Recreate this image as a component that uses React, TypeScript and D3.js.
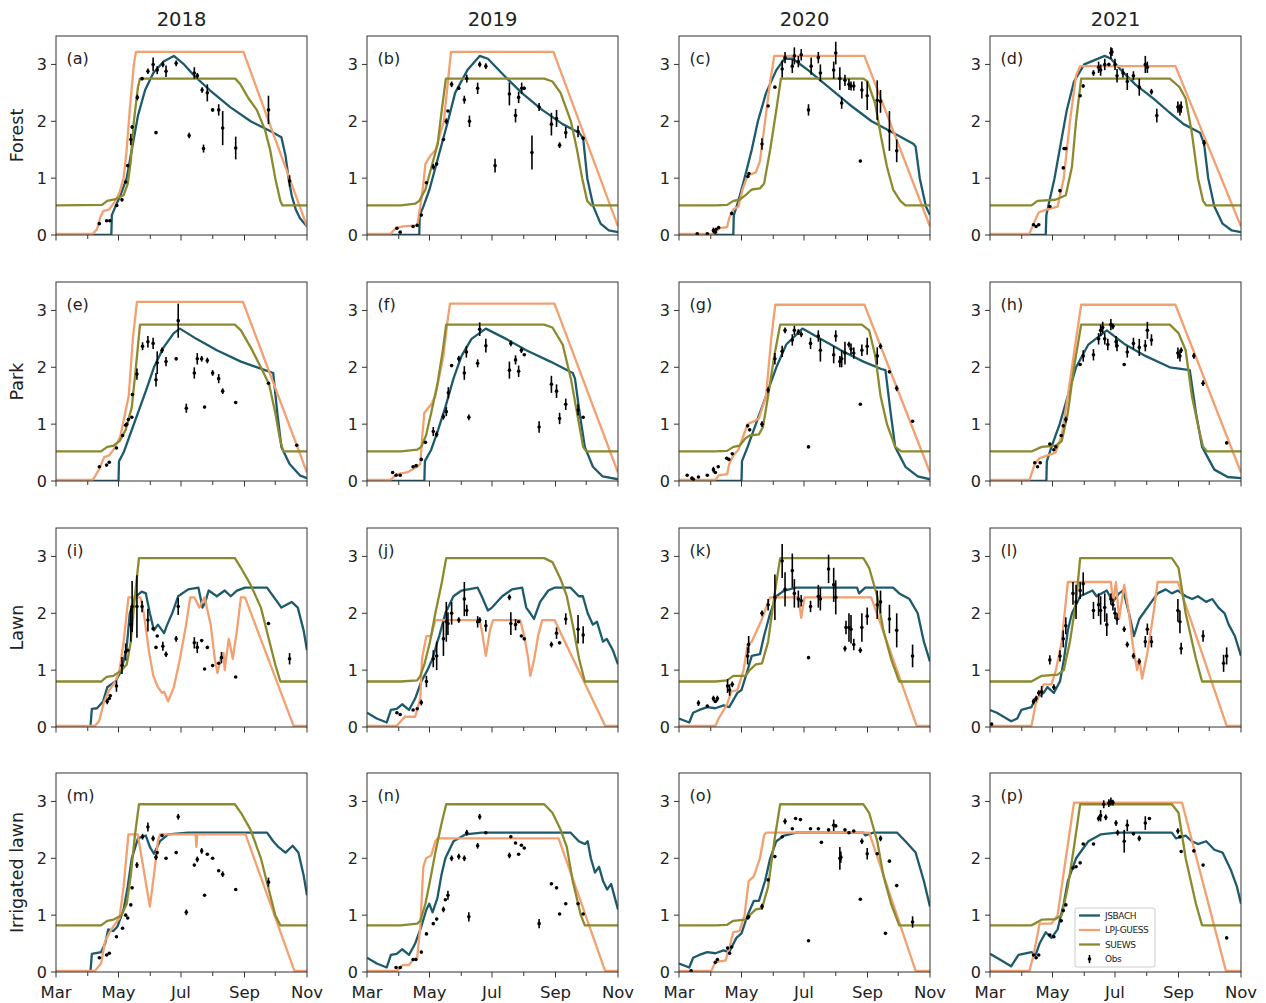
import React from 'react';
import * as d3 from 'd3';

// x values are days since 1 March, y is LAI
const years = ['2018', '2019', '2020', '2021'];
const siteNames = ['Forest', 'Park', 'Lawn', 'Irrigated lawn'];
const panelTags = ['a', 'b', 'c', 'd', 'e', 'f', 'g', 'h', 'i', 'j', 'k', 'l', 'm', 'n', 'o', 'p'];
const monthDays = [0, 31, 61, 92, 122, 153, 184, 214, 245];
const monthNames = ['Mar', '', 'May', '', 'Jul', '', 'Sep', '', 'Nov'];
const yTicks = [0, 1, 2, 3];
const modelNames = ['JSBACH', 'LPJ-GUESS', 'SUEWS'];
const modelColors = ['#1d5a6c', '#f2a070', '#8b8a2e'];

// ---- Forest ----
const jsbachA = [[0,0],[54,0],[54.5,0.35],[58,0.5],[63,0.7],[69,1.0],[75,1.6],[80,2.1],[87,2.55],[95,2.85],[105,3.05],[115,3.15],[125,3.0],[135,2.8],[150,2.55],[170,2.25],[190,2.0],[210,1.82],[220,1.72],[224,1.4],[227,1.0],[230,0.7],[234,0.45],[238,0.3],[245,0.15]];
const lpjA = [[0,0.02],[36,0.02],[40,0.1],[43,0.3],[46,0.42],[52,0.45],[58,0.6],[62,0.75],[66,1.0],[69,1.5],[72,2.2],[76,3.0],[78,3.22],[183,3.22],[245,0.15]];
const suewsA = [[0,0.52],[45,0.53],[50,0.6],[58,0.63],[66,0.7],[70,0.9],[73,1.3],[76,2.0],[80,2.6],[82,2.75],[175,2.75],[180,2.65],[188,2.4],[196,2.2],[204,1.85],[209,1.5],[214,1.0],[219,0.6],[221,0.52],[245,0.52]];
const obsA = [[42.3,0.2,0],[49.4,0.25,0],[52.5,0.25,0],[59.3,0.52,0],[64.4,0.62,0.03],[68,0.93,0],[70,1.22,0],[73,1.68,0.1],[74.3,1.9,0.03],[79.4,2.42,0.05],[84,2.75,0.03],[89.7,2.88,0.05],[94.8,3.0,0.12],[97.6,1.8,0],[98.8,2.9,0.07],[104.3,3.0,0.05],[107.4,2.88,0.1],[117.3,3.02,0.05],[130,1.75,0.05],[135,2.85,0.1],[138,2.8,0.05],[142.6,2.55,0.05],[144,1.52,0.07],[147.7,2.5,0.15],[152.9,2.2,0.03],[158.8,2.2,0.1],[162.7,1.88,0.3],[175.4,1.53,0.2],[207.4,2.2,0.25],[228,0.95,0.1]];

const jsbachB = [[0,0],[51,0],[51.5,0.35],[55,0.5],[61,0.8],[67,1.2],[73,1.6],[79,2.0],[86,2.5],[98,2.9],[110,3.15],[118,3.1],[134,2.8],[151,2.5],[171,2.2],[191,1.95],[207,1.8],[211,1.7],[215,1.0],[221,0.5],[228,0.2],[236,0.08],[245,0.05]];
const lpjB = [[0,0.02],[23,0.02],[28,0.12],[35,0.15],[49,0.17],[52,0.5],[55,0.9],[57,1.25],[62,1.4],[67,1.5],[75,2.0],[79,2.7],[82,3.22],[182,3.22],[245,0.15]];
const suewsB = [[0,0.52],[33,0.52],[47,0.55],[51,0.6],[57,0.8],[63,1.2],[69,1.6],[73,2.2],[77,2.75],[173,2.75],[181,2.7],[189,2.5],[199,2.0],[205,1.5],[210,1.0],[215,0.6],[219,0.52],[245,0.52]];
const obsB = [[29.2,0.12,0],[32.4,0.05,0],[45,0.15,0],[49,0.17,0],[53,0.35,0],[58,0.92,0],[64.7,1.2,0.05],[68,1.25,0.03],[74.6,1.68,0],[77.4,2.0,0.05],[79,2.18,0],[82.6,2.65,0.05],[89.6,2.58,0.03],[95,2.38,0.07],[97.4,2.75,0.07],[100,2.0,0.1],[108,2.58,0.1],[110,3.0,0.05],[116,2.97,0.05],[125,1.22,0.12],[139,2.48,0.2],[145,2.1,0.12],[148,2.42,0.1],[151,2.58,0.1],[153.5,2.58,0.03],[161,1.45,0.3],[168,2.25,0.07],[180,1.95,0.2],[185,2.05,0.15],[188,1.58,0.05],[194,1.8,0.1],[206,1.82,0.1],[211,1.7,0.03]];

const jsbachC = [[0,0],[53,0],[53.5,0.35],[58,0.6],[64,1.0],[71,1.5],[77,2.0],[85,2.5],[95,2.9],[103,3.1],[111,3.1],[126,2.9],[146,2.6],[166,2.3],[188,2.0],[209,1.8],[229,1.6],[231,1.55],[235,1.0],[241,0.5],[245,0.35]];
const lpjC = [[0,0.02],[33.6,0.02],[39.5,0.12],[47,0.14],[49,0.3],[53,0.45],[58,0.5],[62,0.8],[67,1.05],[75,1.1],[79,1.3],[84,2.0],[89,2.7],[93,3.15],[181,3.15],[245,0.15]];
const suewsC = [[0,0.52],[35.5,0.52],[47,0.53],[53,0.6],[59,0.62],[65,0.7],[71,0.8],[79,0.82],[83,0.9],[89,1.5],[95,2.2],[99.5,2.75],[180,2.75],[184,2.7],[191.6,2.3],[197.5,1.7],[203,1.2],[209,0.8],[216,0.6],[221,0.52],[245,0.52]];
const obsC = [[17.8,0.02,0],[27.6,0.02,0],[33.6,0.08,0.05],[35.5,0.05,0],[36.3,0.1,0],[38.7,0.13,0],[51.4,0.38,0],[67.2,1.03,0],[68.3,1.08,0],[81,1.6,0.1],[87,2.27,0],[93.6,2.6,0],[100.7,2.92,0.15],[103.5,3.12,0.1],[110.6,2.97,0.12],[112.6,3.15,0.15],[116.5,3.05,0.1],[119.3,3.17,0.1],[126.4,2.2,0.1],[129,2.97,0.15],[136,3.12,0.1],[138,2.85,0.15],[151,2.9,0.15],[153,3.2,0.2],[157,2.75,0.2],[158.8,2.32,0.1],[162,2.72,0.1],[165.9,2.65,0.1],[167.9,2.62,0.08],[170.6,2.62,0.08],[177,1.3,0],[178.5,2.55,0.15],[183.7,2.45,0.25],[193.5,2.37,0.35],[196.7,2.35,0.2],[205.4,1.83,0.35],[212.5,1.48,0.2]];

const jsbachD = [[0,0],[54.4,0],[55,0.35],[58,0.6],[63,1.0],[69,1.6],[75,2.2],[82,2.7],[92,3.0],[112,3.15],[118,3.1],[128,2.9],[141.7,2.65],[159.6,2.4],[175.5,2.15],[189,1.95],[205,1.8],[209,1.6],[213,1.0],[219,0.5],[227,0.2],[236,0.08],[245,0.05]];
const lpjD = [[0,0.02],[38.5,0.02],[42.5,0.2],[47.6,0.4],[56,0.45],[66,0.5],[72,1.0],[78,2.0],[84,2.8],[88,2.97],[181,2.97],[245,0.15]];
const suewsD = [[0,0.52],[40.5,0.52],[46.4,0.6],[64,0.62],[74,0.7],[80,1.2],[84,2.0],[89,2.75],[175.5,2.75],[185,2.6],[191,2.4],[197,1.8],[203,1.0],[208,0.6],[211,0.52],[245,0.52]];
const obsD = [[42.5,0.18,0],[45,0.15,0],[47.6,0.18,0],[58.4,0.5,0],[68.3,0.78,0.03],[71.5,1.18,0],[72.3,1.52,0],[74,1.52,0],[88,2.45,0],[91,2.62,0.03],[101,2.85,0.05],[106,2.95,0.1],[108,2.9,0.1],[112,3.0,0.1],[116,3.0,0.03],[118,3.2,0.1],[119,3.22,0.07],[122,3.0,0.1],[124,2.8,0.12],[129.8,2.85,0.08],[134,2.7,0.15],[140,2.8,0.08],[145.7,2.6,0.15],[151.6,3.0,0.15],[153.6,2.95,0.1],[157.6,2.52,0.05],[162.8,2.1,0.12],[183.4,2.25,0.1],[185.4,2.2,0.1],[186.6,2.25,0.1],[209,1.62,0.05]];

// ---- Park ----
const jsbachE = [[0,0],[61,0],[61.5,0.35],[66,0.5],[72,0.8],[80,1.2],[88,1.6],[95.6,2.0],[105,2.35],[115,2.6],[121,2.68],[137,2.5],[157,2.3],[180.5,2.1],[204,1.95],[212,1.9],[216,1.2],[220,0.6],[228,0.3],[238,0.1],[245,0.05]];
const lpjE = [[0,0.02],[36,0.02],[42,0.2],[47,0.42],[52,0.45],[58,0.6],[63,0.8],[71,1.5],[75,2.5],[79,3.15],[182.5,3.15],[245,0.15]];
const suewsE = [[0,0.52],[44,0.52],[50,0.6],[56,0.62],[62,0.7],[68,0.9],[74,1.3],[78,2.0],[82,2.75],[174.6,2.75],[180.5,2.65],[190,2.35],[200,2.0],[208,1.7],[214,1.2],[219,0.7],[222,0.52],[245,0.52]];
const obsE = [[42.3,0.25,0],[49.4,0.28,0],[52,0.33,0],[59,0.58,0],[65,0.8,0],[68,0.98,0],[69,1.0,0],[70.7,1.08,0],[74,1.12,0],[74.6,1.52,0],[79,1.88,0.1],[84.5,2.37,0.07],[89.7,2.45,0.1],[94.8,2.42,0.1],[97.6,1.78,0.12],[98.8,2.08,0.2],[103.5,2.3,0.05],[107.4,2.1,0.08],[117.3,2.15,0.03],[119.3,2.82,0.3],[127.2,1.28,0.08],[135,1.9,0.1],[137.9,2.15,0.1],[142.2,2.15,0.05],[145,1.3,0],[147.7,2.12,0.05],[152.9,1.9,0.05],[158.8,1.8,0.08],[162.7,1.58,0.05],[175.4,1.38,0],[207.4,1.72,0],[235,0.63,0]];

const jsbachF = [[0,0],[56,0],[56.5,0.35],[62.7,0.55],[69.4,0.9],[76.5,1.3],[84.4,1.8],[92.3,2.2],[102,2.5],[116,2.68],[135.7,2.5],[155.4,2.3],[179,2.1],[200.8,1.9],[203,1.8],[207.5,1.2],[212.6,0.6],[220.5,0.25],[230,0.08],[245,0.03]];
const lpjF = [[0,0.02],[23,0.02],[29,0.12],[39,0.15],[49,0.25],[52,0.3],[54,0.8],[56,1.2],[62.7,1.35],[66.7,1.5],[74.6,2.2],[78.5,2.8],[81,3.12],[183,3.12],[245,0.15]];
const suewsF = [[0,0.52],[33,0.52],[49,0.55],[53,0.6],[57.6,0.8],[62.7,1.2],[68.7,1.7],[74,2.3],[77.3,2.75],[173,2.75],[181,2.7],[191,2.4],[199,1.8],[207,1.0],[211,0.6],[214,0.52],[245,0.52]];
const obsF = [[25,0.15,0],[28.4,0.1,0],[32.4,0.1,0],[45,0.25,0],[48,0.27,0],[53,0.38,0],[57,0.68,0],[64.7,0.87,0.08],[68,0.82,0.05],[74.6,1.13,0.05],[77.4,1.22,0.08],[79.4,1.55,0.1],[82.6,2.03,0],[89.6,2.15,0.05],[95,1.9,0.12],[97,2.27,0.1],[99.4,1.12,0.05],[108,2.07,0.07],[110,2.67,0.12],[116,2.38,0.12],[139,1.95,0.15],[140.4,2.42,0.05],[145,2.13,0.08],[148,1.93,0.1],[150.7,2.3,0.05],[153.5,2.22,0],[168,0.95,0.1],[180,1.7,0.15],[185,1.58,0.12],[188,1.1,0.1],[194,1.35,0.1],[206,1.25,0.1],[211,1.12,0]];

const jsbachG = [[0,0],[61,0],[61.5,0.35],[67,0.6],[75,1.0],[85,1.5],[95,2.0],[104.7,2.4],[120.5,2.68],[138,2.5],[158,2.3],[180,2.1],[197.5,1.97],[201.5,1.95],[206.6,1.2],[211,0.6],[221,0.25],[233,0.08],[245,0.03]];
const lpjG = [[0,0.02],[35.5,0.02],[38.7,0.1],[47,0.12],[49,0.3],[53,0.45],[58,0.55],[63,0.8],[67,1.0],[73,1.05],[78,1.1],[85,1.5],[90,2.5],[94,3.1],[181,3.1],[245,0.15]];
const suewsG = [[0,0.52],[35.5,0.52],[47,0.53],[53,0.6],[59,0.62],[65,0.75],[69,0.8],[78,0.82],[82,0.95],[87,1.5],[93,2.2],[98.75,2.75],[178.5,2.75],[185.6,2.65],[191.6,2.2],[196.7,1.5],[203,1.0],[211,0.6],[217,0.52],[245,0.52]];
const obsG = [[8,0.1,0],[12.6,0.05,0],[14,0.03,0],[19,0.07,0],[27.6,0.1,0],[33.6,0.2,0.05],[35.5,0.15,0],[38.3,0.25,0],[46.6,0.4,0],[48.6,0.38,0],[52,0.48,0],[67,0.97,0],[69,0.9,0],[81,1.0,0.05],[87,1.6,0.05],[93.6,2.15,0.1],[100.7,2.28,0.1],[103.5,2.65,0.05],[110.6,2.48,0.1],[112.6,2.65,0.08],[116.5,2.62,0.05],[119.3,2.58,0.05],[126.4,0.6,0],[128.4,2.42,0.1],[136,2.55,0.1],[138,2.3,0.2],[151,2.22,0.15],[153,2.55,0.1],[157,2.1,0.1],[158.8,2.15,0.15],[162,2.25,0.2],[165.9,2.4,0.05],[167.9,2.32,0.1],[170.6,2.25,0.1],[177,1.35,0],[178.5,2.3,0.1],[183.7,2.37,0.15],[193.5,2.2,0.15],[196.7,2.37,0.05],[205.4,1.92,0],[212.5,1.63,0.05],[228,1.05,0]];

const jsbachH = [[0,0],[55,0],[55.5,0.35],[60,0.6],[68,1.0],[76,1.5],[84,2.0],[96,2.4],[114,2.65],[132,2.4],[151.6,2.2],[175.5,2.0],[195,1.95],[201,1.2],[207,0.6],[219,0.2],[232,0.07],[245,0.05]];
const lpjH = [[0,0.02],[38.5,0.02],[43.7,0.3],[48.4,0.4],[56,0.45],[64,0.5],[70,0.8],[76,1.5],[84,2.5],[89,3.1],[181,3.1],[245,0.15]];
const suewsH = [[0,0.52],[40.5,0.52],[50.4,0.6],[64,0.62],[70,0.7],[76,1.2],[82,2.0],[89,2.75],[175.5,2.75],[184,2.6],[191,2.3],[197,1.5],[204,0.9],[208,0.6],[212,0.52],[245,0.52]];
const obsH = [[43.7,0.32,0],[46.4,0.25,0],[49,0.32,0],[58.4,0.65,0],[62.3,0.55,0],[64.3,0.6,0],[69.5,0.8,0],[71.5,0.97,0],[74,1.08,0.05],[88,2.05,0],[91,2.2,0.1],[101,2.22,0.1],[106,2.5,0.1],[108,2.65,0.1],[110,2.7,0.1],[112,2.5,0.1],[115,2.4,0.1],[118,2.75,0.1],[120,2.72,0.05],[123,2.45,0.1],[124,2.38,0.1],[131,2.05,0],[134,2.27,0.1],[140,2.42,0.1],[145.7,2.35,0.15],[151.6,2.38,0.1],[153.6,2.65,0.15],[157.6,2.48,0.1],[183.4,2.25,0.1],[185.4,2.2,0.1],[186.6,2.3,0.05],[199,2.2,0.05],[208,1.72,0.05],[231,0.67,0]];

// ---- Lawn ----
const jsbachI = [[0,0],[33.6,0],[35,0.32],[40,0.33],[46,0.45],[50,0.7],[58,0.8],[64,1.0],[69,1.4],[72,2.0],[77,2.28],[83.7,2.38],[87.7,2.35],[91.6,2.0],[95.6,1.7],[99.5,1.8],[105.5,1.65],[108.6,1.8],[113.4,2.0],[119.3,2.3],[129,2.42],[139,2.45],[143,2.1],[145.8,2.2],[149,2.4],[157,2.3],[164.7,2.4],[170.6,2.3],[176.6,2.4],[184.5,2.45],[206,2.45],[210,2.35],[216,2.2],[220,2.1],[230,2.2],[236,2.1],[241.7,1.7],[245,1.35]];
const lpjI = [[0,0.02],[38,0.02],[42,0.1],[47,0.45],[52,0.65],[58,0.8],[62,1.0],[66,1.5],[70.7,2.28],[82.5,2.28],[85.7,2.0],[91,1.3],[95,0.9],[99.5,0.7],[103.5,0.6],[105.5,0.62],[109.4,0.45],[115,0.7],[121,1.2],[127,1.8],[131,2.28],[135,2.28],[140,2.1],[145,2.28],[151,1.8],[155,1.2],[157.6,0.95],[160.8,1.2],[163.5,1.3],[164.7,1.0],[166.7,1.3],[168.7,1.55],[172.6,1.2],[176.6,1.7],[180.5,2.28],[184.5,2.28],[231.9,0.02],[245,0.02]];
const suewsI = [[0,0.8],[44,0.8],[49.4,0.88],[56,0.9],[64,1.0],[69,1.1],[73,1.5],[77,2.3],[81,2.97],[174.6,2.97],[180.5,2.8],[190,2.5],[200,2.1],[207,1.6],[214,1.1],[219,0.8],[245,0.8]];
const obsI = [[50,0.45,0.05],[52,0.5,0],[53,0.55,0],[59,0.72,0.1],[64.4,1.08,0.15],[68,1.32,0.15],[70,1.35,0],[73,1.8,0.3],[74.3,2.12,0.45],[79,2.12,0.55],[84,2.12,0.1],[89.7,1.88,0.2],[94.8,1.73,0],[97.6,1.4,0],[98.8,1.6,0],[104.3,1.42,0.08],[107.4,1.28,0.05],[117.3,1.55,0.05],[119.3,2.12,0.15],[135,1.48,0.1],[137.9,1.4,0.1],[142.2,1.52,0],[145,1.02,0],[147.7,1.4,0],[152.9,1.08,0],[158.8,1.12,0],[161.5,1.22,0.1],[175.4,0.88,0],[207.4,1.82,0],[228,1.2,0.1]];

const jsbachJ = [[0,0.25],[9.5,0.15],[19.3,0.08],[23.3,0.3],[29,0.32],[34.3,0.4],[41,0.3],[47,0.5],[53,0.8],[59,1.0],[64,1.2],[68.7,1.5],[70.5,1.6],[76.5,2.0],[84.4,2.3],[92.3,2.4],[108,2.45],[112,2.3],[118,2.05],[122,2.1],[132,2.3],[141.6,2.42],[151.5,2.45],[155.4,2.1],[159.4,2.0],[163,1.9],[169,2.2],[177,2.4],[183,2.45],[198.8,2.45],[206.7,2.3],[210.7,2.3],[215.4,2.0],[220.5,1.8],[224.5,1.85],[230.4,1.5],[234,1.55],[240,1.35],[245,1.1]];
const lpjJ = [[0,0.02],[29,0.02],[33,0.1],[37,0.18],[47,0.18],[52,0.5],[53.7,1.2],[58,1.6],[62.7,1.6],[66.7,1.88],[110,1.88],[112,1.7],[116,1.25],[120,1.7],[123,1.88],[149.5,1.88],[153.5,1.6],[157.4,1.2],[159.4,0.9],[163.3,1.2],[167,1.6],[171,1.88],[183,1.88],[232.4,0.02],[245,0.02]];
const suewsJ = [[0,0.8],[33,0.8],[49,0.82],[52,0.9],[56,1.1],[61.5,1.5],[66.7,2.0],[72.6,2.5],[77.3,2.97],[173,2.97],[181,2.9],[189,2.6],[195,2.3],[200.8,1.8],[207,1.2],[212.6,0.8],[245,0.8]];
const obsJ = [[29.2,0.25,0],[32.4,0.22,0],[45,0.3,0],[49,0.32,0],[53,0.43,0.05],[58,0.8,0.1],[64.7,1.2,0.15],[68,1.25,0.25],[74.6,1.55,0.3],[77.4,1.85,0.35],[79,1.82,0.2],[82.6,2.0,0.2],[89.6,1.88,0.05],[95,2.25,0.3],[97.4,2.05,0.1],[108,1.85,0.1],[110,1.88,0.05],[116,1.78,0.1],[139,2.28,0.05],[140.4,1.82,0.2],[145,1.8,0.1],[148,1.85,0],[150.7,1.6,0],[153.5,1.55,0],[180,1.45,0.05],[185,1.65,0.1],[188,1.48,0],[194,1.9,0.1],[206,1.72,0.25],[211,1.62,0.15]];

const jsbachK = [[0,0.15],[10,0.08],[13.8,0.25],[19.8,0.3],[27.6,0.35],[35.5,0.33],[43.5,0.38],[49,0.35],[57,0.6],[61,0.65],[67,1.0],[71,1.25],[79,1.28],[83,1.6],[89,2.0],[95,2.3],[102.7,2.4],[114.5,2.45],[173.8,2.45],[175.8,2.35],[181.7,2.45],[209,2.45],[215,2.35],[225,2.25],[233,2.0],[239,1.5],[245,1.15]];
const lpjK = [[0,0.02],[35.5,0.02],[38.7,0.15],[47,0.4],[51,0.62],[57,0.65],[63,1.0],[67,1.45],[71,1.5],[81,1.9],[85,2.1],[89,2.28],[116.5,2.28],[119.3,1.92],[122.5,2.28],[187.6,2.28],[232,0.02],[245,0.02]];
const suewsK = [[0,0.8],[35.5,0.8],[47,0.82],[53,0.9],[65,0.9],[69,1.0],[75,1.1],[81,1.12],[87,1.5],[93,2.3],[98.75,2.97],[180,2.97],[185.6,2.8],[193.5,2.3],[199.5,1.7],[207,1.2],[215,0.8],[245,0.8]];
const obsK = [[19,0.42,0.05],[27.6,0.37,0],[33.6,0.5,0.05],[35.5,0.45,0],[37.5,0.5,0.05],[47.4,0.72,0.12],[49.4,0.65,0.1],[52,0.75,0.05],[67,1.25,0.15],[68,1.45,0.15],[81,2.0,0.05],[87,2.15,0.1],[93.6,2.28,0.4],[100.7,2.92,0.3],[103.5,2.42,0.3],[110.6,2.75,0.3],[112.6,2.35,0.25],[116.5,2.25,0.15],[119.3,2.22,0.1],[126.4,1.22,0],[128.4,2.12,0.1],[136,2.3,0.2],[138,2.25,0.2],[146,2.78,0.25],[151,2.5,0.3],[153,2.28,0.3],[162,1.38,0.05],[163,1.75,0.12],[165.9,1.75,0.25],[167.9,1.72,0.25],[170.6,1.45,0.1],[177,1.35,0.05],[178.5,1.75,0.25],[183.7,1.95,0.15],[193.5,2.15,0.25],[196.7,2.2,0.2],[205.4,1.9,0.25],[212.5,1.7,0.3],[228,1.25,0.2]];

const jsbachL = [[0,0.3],[6.7,0.25],[20.6,0.1],[26.6,0.15],[30.6,0.3],[40.5,0.35],[44.5,0.5],[52.4,0.6],[56,0.7],[62.3,0.6],[68.3,0.8],[72.3,1.2],[76,1.7],[80,2.0],[88,2.3],[100,2.4],[104,2.3],[114,2.4],[120,2.2],[126,2.35],[130,2.4],[135.7,2.0],[140.5,1.6],[145.7,1.9],[149.7,2.0],[157.6,2.2],[163.6,2.35],[171.5,2.42],[177.5,2.35],[183.4,2.4],[191,2.3],[197.3,2.25],[203,2.3],[211,2.2],[217,2.25],[223,2.1],[229,2.0],[233,1.8],[239,1.6],[245,1.25]];
const lpjL = [[0,0.02],[40.5,0.02],[44.5,0.4],[49,0.6],[52.4,0.75],[60,0.75],[64.3,1.0],[70,1.5],[74,2.2],[76,2.55],[118,2.55],[120,2.2],[123,2.55],[126,1.9],[131,2.5],[135.7,2.0],[139.7,1.4],[143.7,1.0],[145.7,1.2],[148.5,0.85],[153.6,1.3],[159.6,2.0],[163.6,2.55],[183.4,2.55],[231,0.02],[245,0.02]];
const suewsL = [[0,0.8],[40.5,0.8],[50.4,0.9],[66,0.92],[72,1.0],[78,1.5],[84,2.2],[88,2.97],[177.5,2.97],[184,2.8],[191,2.0],[201,1.2],[207,0.8],[245,0.8]];
const obsL = [[1.6,0.05,0],[42.5,0.45,0.05],[45,0.5,0.05],[47.6,0.6,0.05],[50.4,0.62,0.1],[58.4,1.18,0.08],[62.3,0.7,0.05],[68.3,1.25,0.1],[71.5,1.55,0.15],[74,1.78,0.15],[81,2.35,0.2],[84,2.2,0.3],[88,2.4,0.15],[91,2.52,0.2],[101,2.05,0.15],[106,2.15,0.2],[108,2.05,0.25],[112,2.1,0.25],[114,1.8,0.2],[118,2.25,0.1],[120,2.15,0.1],[122,2.0,0.1],[124,1.9,0.1],[131,1.72,0.05],[134,1.45,0.05],[140,1.25,0.05],[145.7,1.15,0.05],[151.6,1.5,0.1],[153.6,1.72,0.1],[157.6,1.5,0.1],[183.4,2.05,0.2],[185.4,1.85,0.2],[186.6,1.38,0.1],[208,1.6,0.1],[228,1.12,0.15],[231,1.25,0.15]];

// ---- Irrigated lawn ----
const jsbachM = [[0,0],[33.6,0],[35,0.32],[44,0.35],[48,0.5],[51,0.75],[56,0.72],[60,0.8],[66,1.1],[70,1.5],[74,2.0],[80,2.35],[87.7,2.4],[91.6,2.2],[95.6,2.08],[101.5,2.3],[109.4,2.42],[129,2.45],[206,2.45],[212,2.3],[217,2.2],[224,2.1],[231,2.22],[236.6,2.1],[241.7,1.7],[245,1.35]];
const lpjM = [[0,0.02],[38,0.02],[44,0.15],[48,0.55],[54,0.75],[62,0.95],[66,1.5],[70.7,2.42],[79.8,2.42],[83.7,2.0],[91.6,1.15],[95.6,1.7],[99.5,2.3],[101.5,2.42],[136.3,2.42],[137,2.2],[138,2.42],[185,2.42],[232.7,0.02],[245,0.02]];
const suewsM = [[0,0.82],[44,0.82],[50,0.9],[56,0.92],[64,1.0],[69,1.2],[73,1.7],[77,2.4],[81,2.95],[174.6,2.95],[180.5,2.8],[190,2.5],[200,2.0],[207,1.5],[214,1.0],[219,0.82],[245,0.82]];
const obsM = [[42.3,0.25,0],[49.4,0.3,0],[52,0.33,0],[59,0.62,0],[65,0.77,0],[68,1.0,0],[70,0.95,0],[73,1.18,0],[74.3,1.48,0],[79,1.88,0.05],[84.5,2.38,0.05],[89.7,2.55,0.08],[94.8,2.35,0.05],[97.6,2.02,0.05],[98.8,2.1,0],[103.5,2.4,0],[107.4,2.0,0],[117.3,2.1,0],[119.3,2.73,0.05],[127.2,1.05,0.05],[135,1.88,0],[137.9,1.98,0.05],[142.2,2.13,0.05],[145,1.35,0],[147.7,2.07,0],[152.9,2.0,0],[158.8,1.78,0],[162.7,1.72,0.05],[175.4,1.45,0],[207.4,1.58,0.08]];

const jsbachN = [[0,0.25],[9.5,0.15],[19.3,0.08],[23.3,0.3],[29,0.32],[34.3,0.4],[41,0.3],[47,0.5],[53,0.8],[58,1.1],[60.8,1.2],[64,1.05],[68.7,1.3],[72.6,1.7],[76.5,2.0],[84.4,2.3],[96,2.42],[112,2.45],[198.8,2.45],[206.7,2.3],[212.6,2.25],[215.4,2.3],[218.5,2.0],[222.5,1.75],[226.5,1.85],[230.4,1.6],[234.4,1.45],[238.3,1.55],[242,1.3],[245,1.1]];
const lpjN = [[0,0.02],[29,0.02],[35,0.12],[41,0.12],[45,0.22],[49,0.25],[52,0.8],[55,1.85],[57.6,2.0],[62.7,2.05],[66.7,2.3],[68.7,2.35],[187,2.35],[232.4,0.02],[245,0.02]];
const suewsN = [[0,0.82],[33,0.82],[49,0.85],[52,0.9],[57,1.2],[61.5,1.6],[66.7,2.1],[72.6,2.6],[77.3,2.95],[173,2.95],[181,2.8],[189,2.5],[195,2.2],[200.8,1.6],[208.7,1.0],[212.6,0.82],[245,0.82]];
const obsN = [[28.4,0.08,0],[32.4,0.08,0],[45,0.22,0],[47.7,0.22,0],[53,0.35,0],[58,0.67,0],[64.7,0.85,0],[68,0.93,0],[74.6,1.1,0.05],[76.5,1.27,0],[79,1.35,0.08],[82.6,2.0,0.05],[89.6,2.03,0.05],[95,2.0,0.05],[97.4,2.45,0.05],[99.4,0.97,0.08],[108,2.22,0.05],[110,2.73,0.05],[116,2.45,0],[139,2.05,0.05],[140.4,2.38,0],[145,2.27,0],[148,2.07,0],[150.7,2.23,0],[153.5,2.18,0],[168,0.85,0.08],[180,1.55,0],[185,1.48,0],[188,1.02,0],[194,1.2,0],[206,1.2,0],[211,1.02,0]];

const jsbachO = [[0,0.15],[10,0.08],[13.8,0.25],[19.8,0.3],[27.6,0.35],[35.5,0.33],[43.5,0.38],[49,0.35],[56,0.6],[61,0.68],[67,1.0],[73,1.25],[78,1.25],[84,1.6],[89,2.0],[95,2.3],[102.7,2.4],[114.5,2.45],[180,2.45],[182,2.4],[189.6,2.45],[213,2.45],[221,2.3],[231,2.1],[239,1.6],[245,1.15]];
const lpjO = [[0,0.02],[31.6,0.02],[35.5,0.18],[45.4,0.2],[49.4,0.45],[53,0.7],[59,0.72],[64,1.0],[68,1.6],[73,1.68],[79,2.0],[83,2.4],[85,2.45],[185.6,2.45],[231,0.02],[245,0.02]];
const suewsO = [[0,0.82],[35.5,0.82],[47,0.83],[53,0.9],[65,0.92],[69,1.0],[75,1.1],[81,1.12],[87,1.5],[93,2.3],[98.75,2.95],[180,2.95],[185.6,2.8],[193.5,2.3],[199.5,1.7],[207,1.2],[215,0.82],[245,0.82]];
const obsO = [[11.8,0.02,0],[35.5,0.17,0],[37.5,0.22,0],[47.4,0.42,0],[49.4,0.33,0],[51.4,0.44,0],[67,0.95,0],[68,0.97,0],[81,1.15,0.05],[87,1.62,0],[93.6,2.03,0],[100.7,2.38,0],[103.5,2.65,0.05],[110.6,2.52,0],[113.8,2.7,0],[118.5,2.68,0],[126.4,0.55,0],[128.4,2.52,0],[136,2.52,0],[139,2.28,0],[146,2.5,0],[151,2.58,0.1],[153,2.57,0],[157,2.0,0.2],[158,2.02,0.1],[162,2.5,0],[165.9,2.45,0],[170.6,2.48,0],[177,1.28,0],[178.5,2.3,0.05],[183.7,2.08,0.1],[193.5,2.08,0],[196.7,2.35,0.05],[201.5,0.68,0],[205.4,1.95,0],[212.5,1.52,0],[228,0.88,0.1]];

const jsbachP = [[0,0.32],[6.7,0.25],[20.6,0.1],[27.8,0.3],[40.5,0.35],[44.5,0.3],[48.4,0.5],[54.4,0.7],[60,0.6],[66,0.75],[72,1.2],[76,1.6],[84,2.0],[96,2.3],[108,2.42],[124,2.45],[177.5,2.45],[181.5,2.35],[191,2.4],[197,2.3],[203,2.25],[211,2.3],[219,2.15],[227,2.1],[235,1.8],[241,1.5],[245,1.2]];
const lpjP = [[0,0.02],[38.5,0.02],[42.5,0.3],[48.4,0.85],[60,0.85],[66,1.0],[74,2.0],[82,2.98],[187.4,2.98],[230.3,0.02],[245,0.02]];
const suewsP = [[0,0.82],[40.5,0.82],[50.4,0.92],[64,0.93],[70,1.0],[76,1.5],[82,2.2],[88,2.95],[177.5,2.95],[184,2.8],[191,2.0],[201,1.2],[207,0.82],[245,0.82]];
const obsP = [[42.5,0.3,0],[45,0.25,0],[47.6,0.3,0],[58.4,0.65,0],[62.3,0.62,0],[69.5,0.9,0],[71.5,1.08,0],[74,1.18,0],[81,1.83,0],[84,1.85,0],[88,1.92,0],[91,2.25,0],[101,2.25,0],[106,2.7,0.05],[108,2.75,0.1],[111,2.95,0.07],[113,2.72,0.05],[116,2.97,0.07],[118,3.0,0.07],[120,2.98,0.05],[123,2.62,0.05],[124.6,2.45,0.05],[131,2.3,0.2],[134,2.58,0.1],[140,2.43,0],[145.7,2.35,0.05],[151.6,2.62,0.12],[155.6,2.7,0],[183.4,2.48,0.05],[185.4,2.38,0],[186.6,2.12,0],[199,2.13,0],[208,1.88,0],[231,0.6,0]];

const panelSeries = [
  [jsbachA, lpjA, suewsA, obsA], [jsbachB, lpjB, suewsB, obsB], [jsbachC, lpjC, suewsC, obsC], [jsbachD, lpjD, suewsD, obsD],
  [jsbachE, lpjE, suewsE, obsE], [jsbachF, lpjF, suewsF, obsF], [jsbachG, lpjG, suewsG, obsG], [jsbachH, lpjH, suewsH, obsH],
  [jsbachI, lpjI, suewsI, obsI], [jsbachJ, lpjJ, suewsJ, obsJ], [jsbachK, lpjK, suewsK, obsK], [jsbachL, lpjL, suewsL, obsL],
  [jsbachM, lpjM, suewsM, obsM], [jsbachN, lpjN, suewsN, obsN], [jsbachO, lpjO, suewsO, obsO], [jsbachP, lpjP, suewsP, obsP],
];

const colLeft = [56, 367, 679, 990];
const rowTop = [36, 282, 528, 773];
const pw = 251;
const ph = 199;
const font = '"DejaVu Sans", sans-serif';

const x = d3.scaleLinear().domain([0, 245]).range([0, pw]);
const y = d3.scaleLinear().domain([0, 3.5]).range([ph, 0]);
const line = d3.line<number[]>().x(d => x(d[0])).y(d => y(d[1]));

function Panel({ idx }: { idx: number }) {
  const row = Math.floor(idx / 4);
  const col = idx % 4;
  const [js, lpj, su, obs] = panelSeries[idx];
  const clipId = 'clip' + idx;
  return (
    <g transform={`translate(${colLeft[col]},${rowTop[row]})`}>
      <defs>
        <clipPath id={clipId}><rect x={0} y={0} width={pw} height={ph} /></clipPath>
      </defs>
      <g clipPath={`url(#${clipId})`}>
        {[js, lpj, su].map((s, i) => (
          <path key={i} d={line(s as number[][]) || ''} fill="none" stroke={modelColors[i]} strokeWidth={2.3} strokeLinejoin="round" />
        ))}
        {(obs as number[][]).map((o, i) => (
          <g key={i}>
            {o[2] > 0 && <line x1={x(o[0])} x2={x(o[0])} y1={y(o[1] - o[2])} y2={y(o[1] + o[2])} stroke="#000" strokeWidth={1.6} />}
            <circle cx={x(o[0])} cy={y(o[1])} r={1.8} fill="#000" />
          </g>
        ))}
      </g>
      <rect x={0} y={0} width={pw} height={ph} fill="none" stroke="#333" strokeWidth={1} />
      {yTicks.map(t => (
        <g key={t}>
          <line x1={-5} x2={0} y1={y(t)} y2={y(t)} stroke="#333" />
          <text x={-9} y={y(t)} dy="0.36em" textAnchor="end" fontSize={16} fontFamily={font} fill="#222">{t}</text>
        </g>
      ))}
      {monthDays.map((m, i) => (
        <g key={m}>
          <line x1={x(m)} x2={x(m)} y1={ph} y2={ph + (monthNames[i] ? 5.5 : 4)} stroke="#333" />
          {row === 3 && monthNames[i] && (
            <text x={x(m)} y={ph + 25.5} textAnchor="middle" fontSize={16.5} fontFamily={font} fill="#222">{monthNames[i]}</text>
          )}
        </g>
      ))}
      <text x={10.5} y={28} fontSize={16} fontFamily={font} fill="#222">({panelTags[idx]})</text>
      {row === 0 && (
        <text x={pw / 2} y={-10} textAnchor="middle" fontSize={19.5} fontFamily={font} fill="#222">{years[col]}</text>
      )}
      {col === 0 && (
        <text transform={`translate(${-33},${ph / 2}) rotate(-90)`} textAnchor="middle" fontSize={17.5} fontFamily={font} fill="#222">{siteNames[row]}</text>
      )}
      {idx === 15 && <Legend />}
    </g>
  );
}

function Legend() {
  const lx = 85;
  const ly = 135;
  return (
    <g transform={`translate(${lx},${ly})`}>
      <rect x={0} y={0} width={80} height={59} rx={2} fill="#fff" fillOpacity={0.85} stroke="#ccc" />
      {modelNames.map((n, i) => (
        <g key={n} transform={`translate(0,${7.5 + i * 14.5})`}>
          <line x1={4} x2={25} y1={0} y2={0} stroke={modelColors[i]} strokeWidth={2.3} />
          <text x={30} y={0} dy="0.35em" fontSize={9} fontFamily={font} fill="#222" letterSpacing={-0.4}>{n}</text>
        </g>
      ))}
      <g transform={`translate(0,${7.5 + 3 * 14.5})`}>
        <line x1={14.5} x2={14.5} y1={-4} y2={4} stroke="#000" strokeWidth={1.6} />
        <circle cx={14.5} cy={0} r={1.8} fill="#000" />
        <text x={30} y={0} dy="0.35em" fontSize={9} fontFamily={font} fill="#222" letterSpacing={-0.4}>Obs</text>
      </g>
    </g>
  );
}

export default function App() {
  return (
    <svg width={1266} height={1003} style={{ position: 'absolute', left: 0, top: 0, background: '#fff' }}>
      {panelSeries.map((_, i) => <Panel key={i} idx={i} />)}
    </svg>
  );
}
